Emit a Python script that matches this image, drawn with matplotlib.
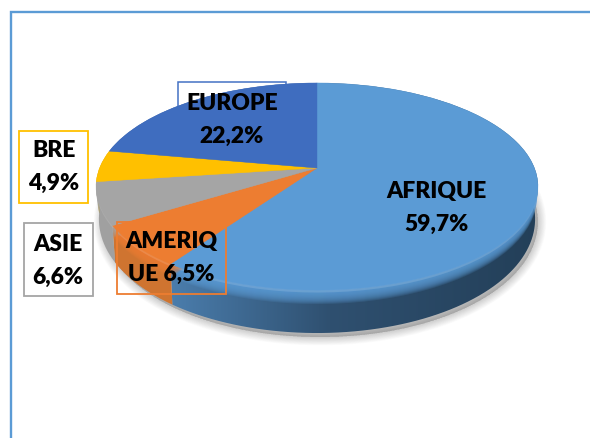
import numpy as np
import matplotlib
matplotlib.use("Agg")
import matplotlib.pyplot as plt
from matplotlib.patches import Wedge, Rectangle, PathPatch, Circle
from matplotlib.path import Path
from matplotlib.transforms import Transform
from matplotlib.colors import to_rgb

plt.rcParams['font.family'] = ['Lato', 'DejaVu Sans']

regions = ["AFRIQUE", "AMERIQUE", "ASIE", "BRE", "EUROPE"]
shares = [59.7, 6.5, 6.6, 4.9, 22.2]
face_colors = ["#5b9bd5", "#ed7d31", "#a5a5a5", "#ffc000", "#3f6dbf"]
wall_stops = [["#4a7cab", "#2f5070", "#233f58"],
              ["#cf7430", "#c56c2c", "#b8642a"],
              ["#a0a0a0", "#959595", "#8a8a8a"],
              ["#cc9a00", "#cc9a00", "#cc9a00"],
              ["#2f5597", "#2f5597", "#2f5597"]]
labels = ["AFRIQUE\n59,7%", "AMERIQ\nUE 6,5%", "ASIE\n6,6%", "BRE\n4,9%", "EUROPE\n22,2%"]
label_pos = [(436, 208), (171, 258), (58, 261), (54, 167), (232, 120)]
label_boxes = [(None), (117, 222, 109, 72), (24, 223, 69, 73), (19, 131, 69, 72), (178, 82, 108, 70)]
box_colors = ["#5b9bd5", "#ed7d31", "#a5a5a5", "#ffc000", "#4472c4"]


class Perspective(Transform):
    """Tilted-disc projection from the unit circle to pixel coordinates."""
    input_dims = output_dims = 2

    def __init__(self, dy=0.0, dx=0.0):
        super().__init__()
        self.dy, self.dx = dy, dx

    def transform_non_affine(self, pts):
        pts = np.asarray(pts, float)
        u, v = pts[:, 0], pts[:, 1]
        w = 1 + 0.1787 * v
        shrink = 1 - 0.0003 * self.dy
        return np.column_stack([317 + self.dx + 217.4 * shrink * u / w,
                                (168 - 70.2 * v) / w + self.dy * (0.7 - 0.3 * v)])

    def transform_path_non_affine(self, path):
        return Path(self.transform_non_affine(path.vertices), path.codes)


DEPTH = 43
fig = plt.figure(figsize=(5.9, 4.38), dpi=100, facecolor="white")
ax = fig.add_axes([0, 0, 1, 1])
wedges, _ = ax.pie(shares, startangle=90, counterclock=False, radius=1)
ax.set_aspect("auto")
ax.axis("off")

# chart frame (top and left edges run off the crop)
ax.plot([11, 11, 590], [438, 12, 12], color="#5b9bd5", lw=1.7, zorder=1,
        solid_joinstyle="miter", clip_on=False)

# box drawn beneath the pie
x, y, w, h = label_boxes[4]
ax.add_patch(Rectangle((x, y), w, h, fc="white", ec=box_colors[4], lw=1.1, zorder=2))

# soft shadow
for k in range(12):
    ax.add_patch(Circle((0, 0), 1.0,
                        transform=Perspective(dy=DEPTH + 4, dx=3) + ax.transData,
                        fc="#000000", ec="#000000", lw=(12 - k) * 1.0, alpha=0.014, zorder=3))

# walls
for i, wd in enumerate(wedges):
    t = np.radians(np.linspace(wd.theta1, wd.theta2, 120))
    circ = np.column_stack([np.cos(t), np.sin(t)])
    rim = Perspective().transform_non_affine(circ)
    low = Perspective(dy=DEPTH).transform_non_affine(circ)
    poly = np.vstack([rim, low[::-1], rim[:1]])
    clip = PathPatch(Path(poly), transform=ax.transData, fc="none", ec="none")
    ax.add_patch(clip)
    stops = np.array([to_rgb(c) for c in wall_stops[i]])
    xs = np.arange(590) + 0.5
    grad = np.column_stack([np.interp(xs, [175, 330, 540], stops[:, c]) for c in range(3)])[None, :, :]
    im = ax.imshow(grad, extent=(0, 590, 438, 0), aspect="auto", zorder=4)
    im.set_clip_path(clip)

# bevel: stacked translucent copies fading into the wall, then a highlight, then the faces
for i, wd in enumerate(wedges):
    for d in range(14, 0, -1):
        ax.add_patch(Wedge((0, 0), 1, wd.theta1, wd.theta2,
                           transform=Perspective(dy=d) + ax.transData,
                           fc=face_colors[i], ec="none", alpha=0.17, zorder=5))
    ax.add_patch(Wedge((0, 0), 1, wd.theta1, wd.theta2,
                       transform=Perspective(dy=2.5) + ax.transData,
                       fc="white", ec="none", alpha=0.13, zorder=5))
for i, wd in enumerate(wedges):
    wd.set_transform(Perspective() + ax.transData)
    wd.set_facecolor(face_colors[i])
    wd.set_edgecolor(face_colors[i])
    wd.set_linewidth(0.3)
    wd.set_zorder(6)
    wd.set_clip_on(False)

# boxes drawn over the pie
for i in (1, 2, 3):
    x, y, w, h = label_boxes[i]
    fc = "none" if i == 1 else "white"
    ax.add_patch(Rectangle((x, y), w, h, fc=fc, ec=box_colors[i], lw=1.3, zorder=7))

for lab, (x, y) in zip(labels, label_pos):
    ax.text(x, y, lab, ha="center", va="center", fontsize=16.5, fontweight="heavy",
            color="black", linespacing=1.7, zorder=8)

ax.set_xlim(0, 590)
ax.set_ylim(438, 0)
fig.savefig("out.png", dpi=100)
